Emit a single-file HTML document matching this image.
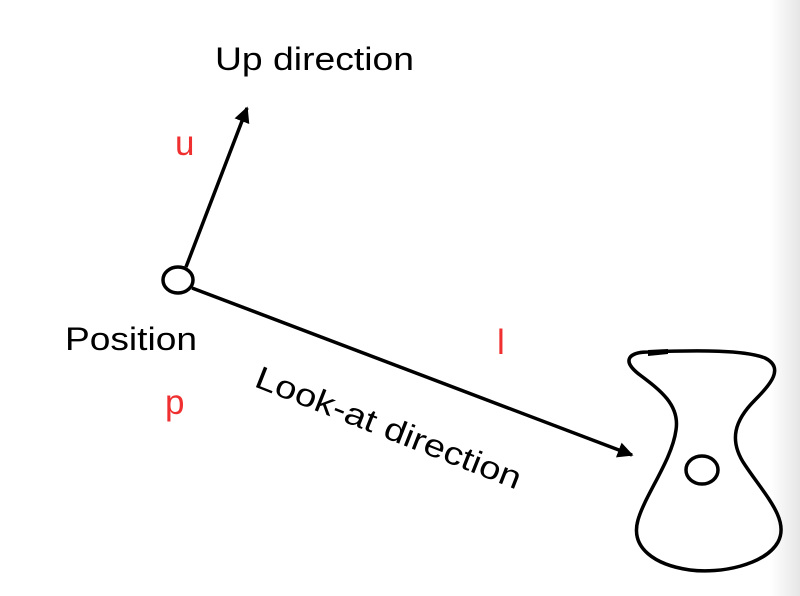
<!DOCTYPE html>
<html><head><style>
html,body{margin:0;padding:0;background:#fff;}
svg{display:block;font-family:"Liberation Sans",Arial,sans-serif;}
</style></head><body>
<svg width="800" height="596" viewBox="0 0 800 596">
<defs>
<linearGradient id="edge" x1="0" x2="1"><stop offset="0" stop-color="#fff"/><stop offset="1" stop-color="#e6e6e6"/></linearGradient>
<marker id="ah" viewBox="0 0 10 10" refX="9" refY="5" markerWidth="4.5" markerHeight="4.5" orient="auto"><path d="M0,0 L10,5 L0,10 z" fill="#000"/></marker>
</defs>
<rect x="770" y="0" width="30" height="596" fill="url(#edge)"/>
<text x="215" y="70" font-size="32" textLength="199" lengthAdjust="spacingAndGlyphs" fill="#000">Up direction</text>
<text x="175" y="155" font-size="35" fill="#f03030">u</text>
<line x1="186" y1="267" x2="247" y2="108" stroke="#000" stroke-width="3.5" marker-end="url(#ah)"/>
<line x1="192" y1="288" x2="632" y2="455" stroke="#000" stroke-width="3.5" marker-end="url(#ah)"/>
<ellipse cx="178" cy="280" rx="15" ry="13" fill="#fff" stroke="#000" stroke-width="3.5"/>
<text x="65" y="350" font-size="32" textLength="132" lengthAdjust="spacingAndGlyphs" fill="#000">Position</text>
<text x="165" y="414" font-size="35" fill="#f03030">p</text>
<text x="497" y="354" font-size="35" fill="#f03030">l</text>
<text x="0" y="0" font-size="32" textLength="283" lengthAdjust="spacingAndGlyphs" fill="#000" transform="translate(253,386) rotate(21.5)">Look-at direction</text>
<path d="M648,352 C700,350 745,350 765,358 C785,368 770,385 755,400 C735,420 728,440 745,465 C765,495 790,520 778,542 C765,565 720,574 690,570 C655,565 630,548 638,520 C645,495 672,460 676,430 C680,405 660,390 640,375 C620,360 630,352 648,352 Z" fill="none" stroke="#000" stroke-width="3.5"/>
<path d="M648,350 L668,349 L668,354 L648,356 Z" fill="#000"/>
<ellipse cx="702" cy="470" rx="16" ry="14" fill="none" stroke="#000" stroke-width="3.5"/>
</svg>
</body></html>
